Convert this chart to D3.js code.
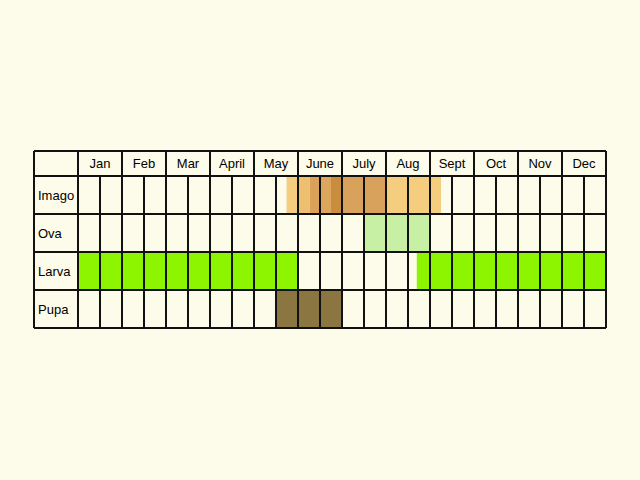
<!DOCTYPE html>
<html><head><meta charset="utf-8">
<script src="https://cdn.jsdelivr.net/npm/d3@7"></script>
<style>body{margin:0;background:#fdfbea}</style>
</head><body><div id="chart"></div>
<script>
const months = ["Jan","Feb","Mar","April","May","June","July","Aug","Sept","Oct","Nov","Dec"]
const stages = ["Imago","Ova","Larva","Pupa"]
// segments: stage, start month, end month, colour
const imagoSegs = [[4.74,4.98,"#f5cd7f"],[4.98,5.27,"#edc070"],[5.27,5.5,"#d9a15a"],[5.5,5.75,"#dca65d"],[5.75,6,"#c98d3e"],[6,7,"#d8a25c"],[7,8.25,"#f5cd7f"]]
const ovaSegs = [[6.5,8,"#c8f0a4"]]
const larvaSegs = [[0,5,"#8ef500"],[7.7,12,"#8ef500"]]
const pupaSegs = [[4.5,6,"#8b7540"]]

const W = 640, H = 480
const svg = d3.select("#chart").append("svg").attr("width", W).attr("height", H)
svg.append("rect").attr("width", W).attr("height", H).attr("fill", "#fdfbea")

const left = 34, labelW = 44, right = 606
const x = d3.scaleLinear().domain([0, 12]).range([left + labelW, right])
const headerTop = 151, headerH = 25, rowH = 38
const y = d3.scaleBand().domain(stages).range([headerTop + headerH, headerTop + headerH + rowH * 4])

const segs = [["Imago", imagoSegs], ["Ova", ovaSegs], ["Larva", larvaSegs], ["Pupa", pupaSegs]]
segs.forEach(([st, list]) => {
    svg.selectAll(null).data(list).join("rect")
        .attr("x", d => x(d[0])).attr("width", d => x(d[1]) - x(d[0]))
        .attr("y", y(st)).attr("height", y.bandwidth())
        .attr("fill", d => d[2])
})

const g = svg.append("g").attr("stroke", "#111").attr("stroke-width", 2)
const bottom = y.range()[1]
// horizontal lines
;[headerTop, ...stages.map(s => y(s)), bottom].forEach(v =>
    g.append("line").attr("x1", left).attr("x2", right).attr("y1", v).attr("y2", v))
// vertical lines
g.append("line").attr("x1", left).attr("x2", left).attr("y1", headerTop).attr("y2", bottom)
d3.range(0, 12.01, 0.5).forEach(m =>
    g.append("line").attr("x1", x(m)).attr("x2", x(m))
        .attr("y1", Number.isInteger(m) ? headerTop : headerTop + headerH).attr("y2", bottom))

svg.selectAll(".mon").data(months).join("text")
    .attr("x", (d, i) => x(i + 0.5)).attr("y", headerTop + headerH / 2 + 4.5)
    .attr("text-anchor", "middle").style("font", "13px 'Liberation Sans', Arial, sans-serif")
    .text(d => d)
svg.selectAll(".stg").data(stages).join("text")
    .attr("x", left + 4).attr("y", d => y(d) + rowH / 2 + 4.5)
    .style("font", "13px 'Liberation Sans', Arial, sans-serif")
    .text(d => d)
</script></body></html>
